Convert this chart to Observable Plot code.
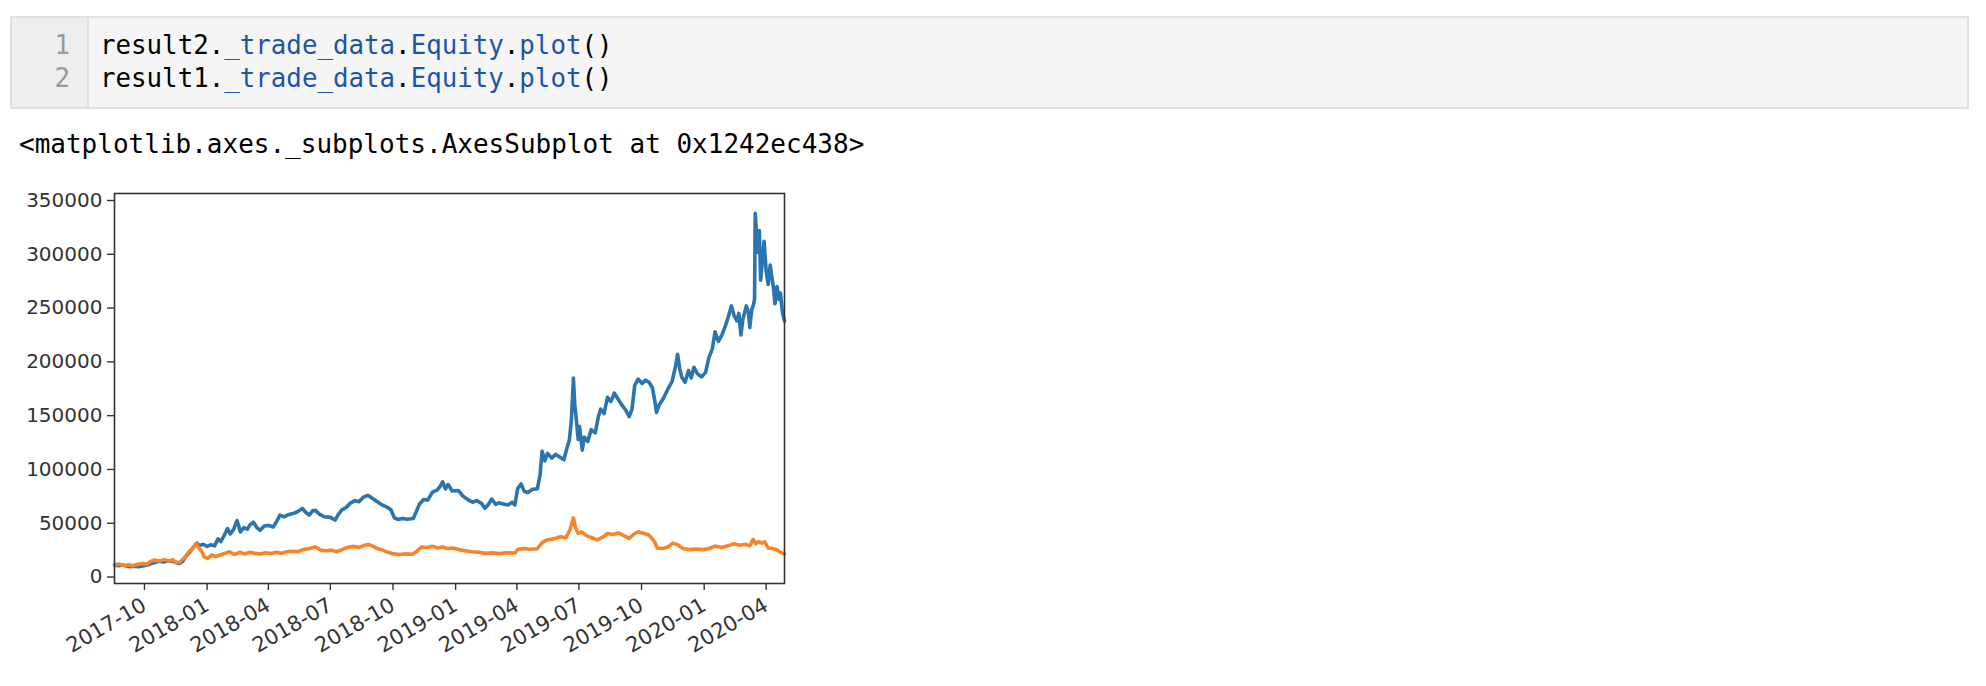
<!DOCTYPE html>
<html>
<head>
<meta charset="utf-8">
<script src="https://cdn.jsdelivr.net/npm/d3@7"></script>
<script src="https://cdn.jsdelivr.net/npm/@observablehq/plot@0.6"></script>
<style>
  html, body { margin: 0; padding: 0; background: #fff; }
  body { width: 1986px; height: 686px; position: relative; overflow: hidden; }
  .cell { position: absolute; left: 10px; top: 16px; width: 1955px; height: 89px;
          background: #f5f5f5; border: 2px solid #e0e0e0; }
  .gutter { position: absolute; left: 0; top: 0; width: 75px; height: 89px;
            background: #eeeeee; border-right: 2px solid #e0e0e0; }
  .mono { font-family: "DejaVu Sans Mono", monospace; font-size: 25.8px; white-space: pre; }
  .ln { position: absolute; right: 17px; color: #999; }
  .code { position: absolute; left: 88px; color: #000; }
  .p { color: #1d55a6; }
  .out { position: absolute; left: 19px; top: 129px; color: #000; font-size: 26px; }
  #chart { position: absolute; left: 0; top: 180px; }
</style>
</head>
<body>
<div class="cell">
  <div class="gutter">
    <div class="mono ln" style="top:12px">1</div>
    <div class="mono ln" style="top:45px">2</div>
  </div>
  <div class="mono code" style="top:12px">result2.<span class="p">_trade_data</span>.<span class="p">Equity</span>.<span class="p">plot</span>()</div>
  <div class="mono code" style="top:45px">result1.<span class="p">_trade_data</span>.<span class="p">Equity</span>.<span class="p">plot</span>()</div>
</div>
<div class="mono out">&lt;matplotlib.axes._subplots.AxesSubplot at 0x1242ec438&gt;</div>
<div id="chart"></div>
<script>
// result2 equity (blue)
const blueDates = ["2017-08-18","2017-08-24","2017-08-30","2017-09-05","2017-09-10","2017-09-16","2017-09-22","2017-09-28","2017-10-04","2017-10-10","2017-10-16","2017-10-23","2017-10-29","2017-11-04","2017-11-10","2017-11-16","2017-11-21","2017-11-26","2017-11-30","2017-12-05","2017-12-10","2017-12-14","2017-12-17","2017-12-20","2017-12-26","2018-01-01","2018-01-06","2018-01-12","2018-01-17","2018-01-21","2018-01-26","2018-01-31","2018-02-04","2018-02-09","2018-02-14","2018-02-19","2018-02-24","2018-03-01","2018-03-05","2018-03-10","2018-03-15","2018-03-20","2018-03-26","2018-04-01","2018-04-08","2018-04-13","2018-04-18","2018-04-24","2018-04-30","2018-05-07","2018-05-13","2018-05-21","2018-05-26","2018-05-31","2018-06-05","2018-06-09","2018-06-15","2018-06-22","2018-07-01","2018-07-08","2018-07-13","2018-07-18","2018-07-24","2018-07-30","2018-08-06","2018-08-12","2018-08-18","2018-08-25","2018-08-31","2018-09-08","2018-09-15","2018-09-22","2018-09-28","2018-10-03","2018-10-08","2018-10-15","2018-10-22","2018-10-31","2018-11-05","2018-11-09","2018-11-15","2018-11-21","2018-11-28","2018-12-04","2018-12-09","2018-12-13","2018-12-17","2018-12-21","2018-12-27","2019-01-05","2019-01-12","2019-01-20","2019-01-26","2019-02-01","2019-02-08","2019-02-13","2019-02-18","2019-02-23","2019-03-01","2019-03-05","2019-03-12","2019-03-19","2019-03-25","2019-03-29","2019-04-02","2019-04-07","2019-04-12","2019-04-17","2019-04-24","2019-05-01","2019-05-05","2019-05-08","2019-05-12","2019-05-16","2019-05-22","2019-05-28","2019-06-03","2019-06-09","2019-06-14","2019-06-17","2019-06-20","2019-06-23","2019-06-25","2019-06-27","2019-06-30","2019-07-02","2019-07-06","2019-07-09","2019-07-14","2019-07-19","2019-07-25","2019-07-30","2019-08-02","2019-08-07","2019-08-12","2019-08-17","2019-08-22","2019-08-27","2019-09-02","2019-09-08","2019-09-13","2019-09-17","2019-09-21","2019-09-26","2019-10-02","2019-10-07","2019-10-12","2019-10-17","2019-10-21","2019-10-23","2019-10-27","2019-11-02","2019-11-09","2019-11-15","2019-11-20","2019-11-23","2019-11-26","2019-11-29","2019-12-04","2019-12-09","2019-12-13","2019-12-17","2019-12-22","2019-12-28","2020-01-03","2020-01-08","2020-01-13","2020-01-17","2020-01-22","2020-01-27","2020-02-01","2020-02-05","2020-02-10","2020-02-14","2020-02-18","2020-02-21","2020-02-24","2020-02-27","2020-03-03","2020-03-06","2020-03-08","2020-03-11","2020-03-13","2020-03-15","2020-03-16","2020-03-18","2020-03-20","2020-03-22","2020-03-24","2020-03-27","2020-03-29","2020-04-01","2020-04-04","2020-04-07","2020-04-09","2020-04-12","2020-04-14","2020-04-17","2020-04-20","2020-04-22","2020-04-25","2020-04-28"];
const blueValues = [11000,10500,11200,10200,9600,10100,9700,10400,10900,12300,13500,14800,14000,15200,14600,13800,12600,14500,18500,22000,26000,29500,31500,29000,30500,28500,30000,29000,35500,33000,38500,45000,40000,44500,52500,42000,46000,44500,48500,51000,46000,43500,47500,48000,46500,51500,57500,56000,57800,59000,60500,63800,60000,57500,61500,62000,58500,56000,55500,53000,58500,62500,64500,68500,71000,70000,74000,76000,73500,70000,67000,65000,62500,55000,53500,54500,53800,54500,62000,68000,72000,71500,79000,80500,84000,88500,82000,86000,80000,80500,75000,71500,69500,71000,68500,64000,67500,72500,67500,69000,68000,67000,69500,67000,82000,86500,79500,78500,81500,82000,95000,117000,108000,115000,110500,114000,111500,109000,121000,127000,146000,185000,160000,148000,128000,140000,118000,130000,126000,137000,134000,150000,156000,152000,167000,163000,171000,166000,160000,155000,149000,156000,178000,184000,180000,183000,181000,176000,162000,153000,160000,166000,175000,182000,196000,207000,194000,186000,181000,192000,185000,195000,189000,186000,190000,204000,212000,228000,219000,225000,233000,241000,252000,243000,238000,245000,225000,240000,252000,246000,232000,249000,252000,258000,338000,318000,302000,322000,276000,298000,312000,285000,272000,290000,281000,268000,254000,270000,258000,264000,246000,238000];

// result1 equity (orange)
const orangeDates = ["2017-08-18","2017-08-25","2017-09-01","2017-09-08","2017-09-14","2017-09-21","2017-09-28","2017-10-04","2017-10-10","2017-10-16","2017-10-23","2017-10-30","2017-11-06","2017-11-12","2017-11-16","2017-11-22","2017-11-28","2017-12-04","2017-12-08","2017-12-13","2017-12-16","2017-12-20","2017-12-24","2017-12-28","2018-01-02","2018-01-08","2018-01-14","2018-01-20","2018-01-27","2018-02-03","2018-02-10","2018-02-18","2018-02-25","2018-03-05","2018-03-12","2018-03-20","2018-03-28","2018-04-05","2018-04-13","2018-04-20","2018-04-28","2018-05-06","2018-05-14","2018-05-22","2018-06-01","2018-06-09","2018-06-17","2018-06-25","2018-07-03","2018-07-10","2018-07-18","2018-07-26","2018-08-04","2018-08-12","2018-08-20","2018-08-26","2018-09-02","2018-09-08","2018-09-16","2018-09-24","2018-10-02","2018-10-10","2018-10-20","2018-10-30","2018-11-06","2018-11-12","2018-11-20","2018-11-28","2018-12-06","2018-12-13","2018-12-20","2018-12-28","2019-01-06","2019-01-15","2019-01-25","2019-02-04","2019-02-14","2019-02-24","2019-03-06","2019-03-16","2019-03-29","2019-04-02","2019-04-10","2019-04-20","2019-05-01","2019-05-08","2019-05-15","2019-05-25","2019-06-04","2019-06-12","2019-06-18","2019-06-23","2019-06-26","2019-06-30","2019-07-05","2019-07-12","2019-07-20","2019-07-28","2019-08-05","2019-08-12","2019-08-20","2019-08-28","2019-09-05","2019-09-13","2019-09-20","2019-09-26","2019-10-05","2019-10-12","2019-10-20","2019-10-24","2019-11-01","2019-11-09","2019-11-16","2019-11-23","2019-12-01","2019-12-10","2019-12-20","2019-12-30","2020-01-08","2020-01-17","2020-01-27","2020-02-05","2020-02-14","2020-02-22","2020-03-01","2020-03-08","2020-03-13","2020-03-17","2020-03-21","2020-03-26","2020-03-30","2020-04-04","2020-04-10","2020-04-16","2020-04-22","2020-04-28"];
const orangeValues = [11500,12000,10800,11500,10600,11800,12500,12000,14500,15800,14800,16200,15000,16000,13200,14000,17500,22500,25000,28500,31000,27000,24000,18500,17500,20500,19000,20500,22000,23500,21000,23000,21500,23000,22000,21500,22500,21800,23000,22000,23500,24000,23500,25500,26500,28000,25000,24500,25000,23500,25500,27500,28500,27500,29500,30200,28500,26500,25000,23000,21500,21000,21500,21200,24500,28000,27500,28600,27000,28000,26500,27000,25500,24500,23500,23000,22000,22500,21800,22500,22300,25500,26500,25800,26300,32000,34500,35500,37500,36500,44000,55000,46000,40500,42000,38500,36500,34500,37000,40500,39500,41000,38500,36000,40000,42000,40500,39000,33000,27000,26500,28000,31500,30000,26500,25500,26000,25500,26500,28800,27500,29000,31000,29500,30500,29000,35000,31000,33000,31500,32800,27000,26500,25500,23000,21500];

const xTickLabels = ["2017-10","2018-01","2018-04","2018-07","2018-10","2019-01","2019-04","2019-07","2019-10","2020-01","2020-04"];
const yTickValues = [0,50000,100000,150000,200000,250000,300000,350000];

const parse = d3.utcParse("%Y-%m-%d");
const blue = blueDates.map((d, i) => ({date: parse(d), value: blueValues[i]}));
const orange = orangeDates.map((d, i) => ({date: parse(d), value: orangeValues[i]}));
const xTicks = xTickLabels.map(s => d3.utcParse("%Y-%m")(s));

const chart = Plot.plot({
  width: 800,
  height: 500,
  marginLeft: 114,
  marginRight: 16,
  marginTop: 13,
  marginBottom: 97,
  style: {fontFamily: "DejaVu Sans", fontSize: "20px", color: "#333", background: "#fff"},
  x: {type: "utc", domain: [parse(blueDates[0]), parse(blueDates[blueDates.length - 1])]},
  y: {domain: [-6000, 356500]},
  marks: [
    Plot.line(blue, {x: "date", y: "value", stroke: "#2a75b0", strokeWidth: 3.6, strokeLinejoin: "round"}),
    Plot.line(orange, {x: "date", y: "value", stroke: "#f8842a", strokeWidth: 3.6, strokeLinejoin: "round"}),
    Plot.frame({stroke: "#333", strokeWidth: 1.6}),
    Plot.axisY({ticks: yTickValues, tickFormat: d => String(d), tickSize: 7, tickPadding: 5, label: null, stroke: "#333", strokeWidth: 1.4, fill: "#333", fontSize: 20}),
    Plot.axisX({ticks: xTicks, tickFormat: (d, i) => xTickLabels[i], tickSize: 7, tickPadding: 13, tickRotate: -30, label: null, stroke: "#333", strokeWidth: 1.4, fill: "#333", fontSize: 21})
  ]
});
document.getElementById("chart").appendChild(chart);
</script>
</body>
</html>
